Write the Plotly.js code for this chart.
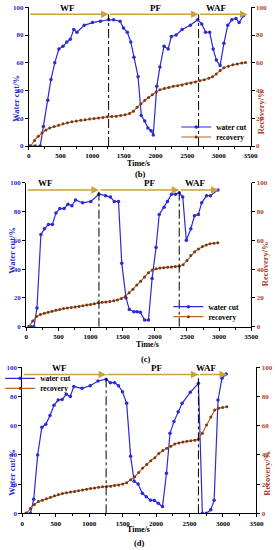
<!DOCTYPE html>
<html>
<head>
<meta charset="utf-8">
<script src="https://cdn.plot.ly/plotly-3.0.1.min.js"></script>
<style>html,body{margin:0;padding:0;background:#fff;}#chart{width:275px;height:550px;}</style>
</head>
<body>
<div id="chart"></div>
<script>
// ---------- data ----------
const phaseNames = ['WF', 'PF', 'WAF'];
const panelLabels = ['(b)', '(c)', '(d)'];
const seriesNames = ['water cut', 'recovery'];
const xTitle = 'Time/s';
const yLeftTitle = 'Water cut/%';
const yRightTitle = 'Recovery/%';
const xTicks = [0, 500, 1000, 1500, 2000, 2500, 3000, 3500];
const yTicks = [0, 20, 40, 60, 80, 100];

// panel (b)
const tB_water = [20, 100, 180, 230, 300, 350, 410, 475, 540, 600, 655, 710, 760, 875, 1005, 1130, 1260, 1340, 1440, 1495, 1555, 1610, 1660, 1725, 1775, 1830, 1880, 1930, 1965, 2020, 2070, 2135, 2200, 2250, 2325, 2420, 2550, 2665, 2730, 2790, 2855, 2910, 2960, 3020, 3080, 3140, 3205, 3270, 3320, 3390];
const waterB = [0, 0, 0, 14, 33, 48, 60, 70, 72, 75, 77, 84, 82, 87, 89, 90, 91, 91, 90, 85, 82, 75, 64, 50, 22, 18, 13, 11, 8, 43, 57, 72, 70, 79, 80, 84, 87, 91, 88, 82, 82, 70, 62, 58, 74, 87, 91, 92, 89, 94];
const tB_rec = [30, 90, 150, 210, 270, 330, 400, 470, 540, 610, 680, 750, 820, 890, 960, 1030, 1100, 1170, 1240, 1310, 1380, 1450, 1520, 1590, 1650, 1710, 1770, 1830, 1890, 1950, 2010, 2070, 2140, 2210, 2280, 2350, 2420, 2490, 2560, 2630, 2700, 2770, 2840, 2900, 2960, 3020, 3080, 3150, 3220, 3290, 3360, 3420];
const recB = [0, 4, 7, 9.5, 11.5, 13, 14, 15, 16, 16.8, 17.5, 18, 18.5, 19, 19.5, 19.8, 20.2, 20.5, 21, 21.2, 21.5, 22, 22.5, 23.5, 25, 28, 30.5, 33, 35, 37, 39, 40.5, 41.5, 42.2, 43, 43.5, 44, 44.8, 45.5, 46.2, 47, 47.8, 48.8, 50, 52, 54.5, 56.5, 57.5, 58.5, 59.2, 59.8, 60.2];
const phaseEdgesB = [0, 1260, 2680, 3450];
const phaseLabelXB = [610, 2000, 2960];

// panel (c)
const tC_water = [40, 80, 120, 167, 228, 284, 345, 406, 462, 522, 588, 649, 710, 766, 877, 1004, 1131, 1233, 1309, 1370, 1435, 1486, 1552, 1603, 1674, 1724, 1775, 1841, 1902, 1958, 2019, 2069, 2145, 2196, 2262, 2323, 2380, 2435, 2490, 2561, 2617, 2678, 2729, 2805, 2866, 2982];
const waterC = [0, 0, 0, 13, 64, 68, 71, 71, 79, 82, 82, 85, 84, 88, 86, 87, 92, 91, 90, 87, 87, 44, 20, 12, 10.4, 10.4, 10, 4.6, 4.6, 33.5, 55, 78, 83, 87, 92, 92, 93, 90, 60, 68, 77, 78, 86, 91, 91, 95];
const tC_rec = [40, 100, 160, 220, 280, 340, 400, 460, 520, 580, 640, 700, 760, 820, 880, 940, 1000, 1060, 1120, 1180, 1240, 1300, 1360, 1420, 1480, 1540, 1600, 1660, 1720, 1780, 1840, 1900, 1960, 2020, 2080, 2140, 2200, 2260, 2320, 2380, 2440, 2500, 2560, 2620, 2680, 2740, 2800, 2860, 2920, 2980];
const recC = [0, 4, 7, 8.5, 9.3, 10, 10.8, 11.5, 12, 12.6, 13, 13.3, 13.7, 14, 14.5, 15, 15.5, 16, 16.6, 16.9, 17.2, 17.5, 18, 18.6, 19.5, 21, 23.5, 26, 29, 31.5, 34.5, 37.5, 39.3, 40.2, 40.7, 41, 41.2, 41.5, 41.8, 42, 43, 46, 49.5, 52, 54, 55.7, 56.8, 57.6, 58, 58.3];
const phaseEdgesC = [0, 1131, 2380, 2990];
const phaseLabelXC = [300, 1920, 2630];

// panel (d)
const tD_water = [58, 122, 170, 229, 292, 351, 414, 473, 536, 595, 658, 717, 770, 892, 1014, 1131, 1253, 1316, 1380, 1438, 1497, 1560, 1619, 1672, 1731, 1794, 1853, 1916, 1974, 2033, 2096, 2155, 2208, 2267, 2330, 2389, 2511, 2633, 2692, 2755, 2818, 2868, 2926, 2985, 3048];
const waterD = [0, 0, 9.6, 40, 59, 61, 67, 74, 77.6, 78, 81.5, 80, 86.8, 85.6, 87.4, 90.6, 91.8, 89.5, 89.5, 87.4, 83.3, 75.3, 39, 22, 20, 13.7, 11.4, 9, 8.7, 6.8, 4.6, 27.4, 54.8, 62.8, 69.6, 75.3, 82.9, 89, 0, 0, 2.5, 9, 77.6, 92.5, 95.4];
const tD_rec = [58, 120, 180, 240, 300, 360, 420, 480, 540, 600, 660, 720, 780, 840, 900, 960, 1020, 1080, 1140, 1200, 1260, 1320, 1380, 1440, 1500, 1560, 1620, 1680, 1740, 1800, 1860, 1920, 1980, 2040, 2100, 2160, 2220, 2280, 2340, 2400, 2460, 2520, 2580, 2633, 2691, 2754, 2818, 2876, 2935, 2995, 3057];
const recD = [0, 3.3, 6, 8, 9, 10, 11, 12, 12.8, 13.5, 14, 14.6, 15, 15.5, 16, 16.5, 17, 17.4, 17.8, 18.1, 18.3, 18.6, 19, 19.4, 20, 21, 23, 25, 28, 31, 33.5, 36, 38, 41, 43, 44.5, 46, 47.5, 48.2, 48.8, 49.3, 49.7, 50.1, 50.7, 54.8, 60.5, 66, 70.8, 72, 72.5, 73];
const phaseEdgesD = [0, 1253, 2633, 3060];
const phaseLabelXD = [560, 2000, 2754];

// ---------- styles / layout (pixel positions on the 275x550 page) ----------
const W = 275, H = 550;
const FONT = 'Liberation Serif, Times New Roman, serif';
const BLUE = '#2a2ad6';
const BROWN_LINE = '#b8662e';
const BROWN_MK = '#7a3a14';
const RED_AX = '#a8452a';
const GOLD = '#c9a23c';
const ARROW_Y = 95;

const panels = [
  {tw: tB_water, w: waterB, tr: tB_rec, r: recB, edges: phaseEdgesB, lx: phaseLabelXB,
   px: [23.3, 250], py: [7.3, 146], legX: 174, legRows: [127, 137],
   lt: [10, 98], rt: [261, 112], xt: [135, 163], lab: [137, 173.5]},
  {tw: tC_water, w: waterC, tr: tC_rec, r: recC, edges: phaseEdgesC, lx: phaseLabelXC,
   px: [20.7, 250.7], py: [182.7, 326.7], legX: 166, legRows: [306.7, 316.7],
   lt: [6, 250], rt: [265, 264], xt: [145, 344], lab: [143, 358.5]},
  {tw: tD_water, w: waterD, tr: tD_rec, r: recD, edges: phaseEdgesD, lx: phaseLabelXD,
   px: [16.7, 256], py: [367.3, 513.3], legX: -6, legRows: [378.3, 388.3],
   lt: [6, 472], rt: [266.5, 473], xt: [135, 529.5], lab: [136.7, 543]}
];
const fx = v => v / W;
const fy = v => 1 - v / H;

const traces = [];
const layout = {
  width: W, height: H,
  margin: {l: 0, r: 0, t: 0, b: 0},
  showlegend: true,
  paper_bgcolor: '#fff', plot_bgcolor: '#fff',
  font: {family: FONT, size: 7, color: '#000', weight: 'bold'},
  shapes: [], annotations: []
};

panels.forEach((p, i) => {
  const xn = i === 0 ? 'x' : 'x' + (i + 1);
  const yl = i === 0 ? 'y' : 'y' + (2 * i + 1);
  const yr = 'y' + (2 * i + 2);
  const legW = (2 * i + 1) === 1 ? 'legend' : 'legend' + (2 * i + 1);
  const legR = 'legend' + (2 * i + 2);
  traces.push({
    x: p.tw, y: p.w, xaxis: xn, yaxis: yl, name: seriesNames[0], legend: legW, showlegend: true,
    mode: 'lines+markers', line: {color: BLUE, width: 1.2},
    marker: {color: BLUE, size: 3.5, symbol: 'circle'}
  });
  traces.push({
    x: p.tr, y: p.r, xaxis: xn, yaxis: yr, name: seriesNames[1], legend: legR, showlegend: true,
    mode: 'lines+markers', line: {color: BROWN_LINE, width: 1.2},
    marker: {color: BROWN_MK, size: 3, symbol: 'circle'}
  });
  const xk = i === 0 ? 'xaxis' : 'xaxis' + (i + 1);
  const ylk = 'yaxis' + (i === 0 ? '' : (2 * i + 1));
  const yrk = 'yaxis' + (2 * i + 2);
  layout[xk] = {
    domain: [fx(p.px[0]), fx(p.px[1])], anchor: yl, range: [0, 3500], tickvals: xTicks,
    showline: true, linecolor: '#000', linewidth: 1, ticks: 'outside', ticklen: 3, tickcolor: '#000',
    minor: {dtick: 250, ticks: 'outside', ticklen: 2, tickcolor: '#000'},
    showgrid: false, zeroline: false,
    tickfont: {family: FONT, size: 7, color: '#000', weight: 'bold'}
  };
  layout[ylk] = {
    domain: [fy(p.py[1]), fy(p.py[0])], anchor: xn, range: [0, 100], tickvals: yTicks,
    showline: true, linecolor: '#000', linewidth: 1, ticks: 'outside', ticklen: 3, tickcolor: '#000',
    showgrid: false, zeroline: false,
    tickfont: {family: FONT, size: 7, color: BLUE, weight: 'bold'}
  };
  layout[yrk] = {
    overlaying: yl, side: 'right', anchor: xn, range: [0, 100], tickvals: yTicks,
    showline: true, linecolor: '#000', linewidth: 1, ticks: 'outside', ticklen: 3, tickcolor: '#000',
    showgrid: false, zeroline: false,
    tickfont: {family: FONT, size: 7, color: RED_AX, weight: 'bold'}
  };
  [legW, legR].forEach((ln, k) => {
    layout[ln] = {
      visible: true,
      x: fx(p.legX), y: fy(p.legRows[k]), xanchor: 'left', yanchor: 'middle',
      bgcolor: 'rgba(0,0,0,0)', borderwidth: 0, itemwidth: 30,
      font: {family: FONT, size: 7.5, color: '#000', weight: 'bold'}
    };
  });
  // axis titles
  layout.annotations.push({xref: 'paper', yref: 'paper', x: fx(p.xt[0]), y: fy(p.xt[1]),
    text: xTitle, showarrow: false, xanchor: 'center', yanchor: 'middle',
    font: {family: FONT, size: 8, color: '#000', weight: 'bold'}});
  layout.annotations.push({xref: 'paper', yref: 'paper', x: fx(p.lt[0]), y: fy(p.lt[1]),
    text: yLeftTitle, showarrow: false, textangle: -90, xanchor: 'center', yanchor: 'middle',
    font: {family: FONT, size: 8.5, color: BLUE, weight: 'bold'}});
  layout.annotations.push({xref: 'paper', yref: 'paper', x: fx(p.rt[0]), y: fy(p.rt[1]),
    text: yRightTitle, showarrow: false, textangle: -90, xanchor: 'center', yanchor: 'middle',
    font: {family: FONT, size: 8.5, color: RED_AX, weight: 'bold'}});
  layout.annotations.push({xref: 'paper', yref: 'paper', x: fx(p.lab[0]), y: fy(p.lab[1]),
    text: panelLabels[i], showarrow: false, xanchor: 'center', yanchor: 'middle',
    font: {family: FONT, size: 8.5, color: '#000'}});
  // phase boundaries
  p.edges.slice(1, 3).forEach(b => {
    layout.shapes.push({type: 'line', xref: xn, yref: yl, x0: b, x1: b, y0: 0, y1: ARROW_Y,
      line: {color: '#000', width: 1, dash: 'dashdot'}});
  });
  // phase arrows and labels
  for (let k = 0; k < 3; k++) {
    layout.annotations.push({
      xref: xn, yref: yl, axref: xn, ayref: yl,
      x: p.edges[k + 1], y: ARROW_Y, ax: p.edges[k], ay: ARROW_Y,
      text: '', showarrow: true, arrowhead: 2, arrowsize: 1, arrowwidth: 1.5,
      arrowcolor: GOLD, standoff: 0, startstandoff: 0
    });
    layout.annotations.push({
      xref: xn, yref: yl, x: p.lx[k], y: 99.5, text: phaseNames[k], showarrow: false,
      font: {family: FONT, size: 9, color: '#000', weight: 'bold'}
    });
  }
});

Plotly.newPlot('chart', traces, layout, {displayModeBar: false, staticPlot: true});
</script>
</body>
</html>
